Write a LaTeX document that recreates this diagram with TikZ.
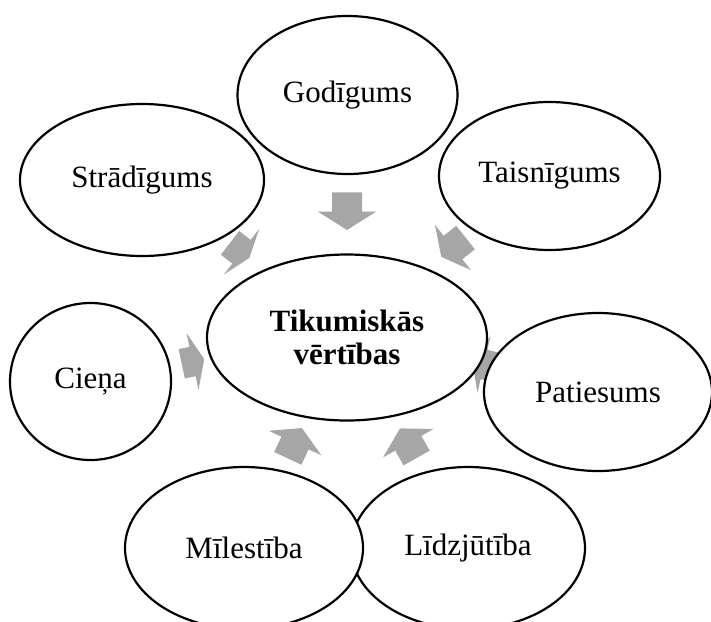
\documentclass[tikz,border=0pt]{standalone}
\usepackage{fontspec}
\setmainfont{Liberation Serif}
\usetikzlibrary{shapes.geometric}
\definecolor{arrowgray}{HTML}{A6A6A6}
\tikzset{
  virtue/.style={ellipse, draw=black, line width=2.2pt, fill=white, inner sep=0pt,
    font=\fontsize{31}{33}\selectfont, align=center},
  blockarrow/.style={fill=arrowgray, draw=none},
}
% #1,#2 = midpoint of head base, #3 = direction angle, #4 = shaft length, #5 = head length
\newcommand{\radialarrow}[5]{%
  \begin{scope}[shift={(#1,#2)}, rotate=#3]
    \fill[blockarrow] (-#4,-15) -- (0,-15) -- (0,-29) -- (#5,0) -- (0,29) -- (0,15) -- (-#4,15) -- cycle;
  \end{scope}}
\begin{document}
\begin{tikzpicture}[x=1pt, y=-1pt]
  \useasboundingbox (0,0) rectangle (711,621);
  \clip (0,0) rectangle (711,621);
  % arrows (behind the ellipses)
  \radialarrow{347}{211.7}{270}{19.4}{18.3}
  \radialarrow{241.5}{251.7}{-37.7}{14.5}{10}
  \radialarrow{453}{247.5}{218.5}{16}{15}
  \radialarrow{192.5}{361.5}{12}{11}{12}
  \radialarrow{484}{364.5}{167}{14}{12}
  \radialarrow{295}{443}{65}{17}{16.5}
  \radialarrow{408.3}{443.2}{119.4}{17}{17}
  % ellipses
  \node[virtue, minimum width=220, minimum height=158] (god) at (347.5,95) {God\={\i}gums};
  \node[virtue, minimum width=244, minimum height=152] (strad) at (142,180) {Str\=ad\={\i}gums};
  \node[virtue, minimum width=221, minimum height=148] (taisn) at (549.5,176) {Taisn\={\i}gums};
  \node[virtue, minimum width=280, minimum height=166, font=\fontsize{31}{33}\selectfont\bfseries] (center) at (347,337.5) {Tikumisk\=as\\v\=ert\={\i}bas};
  \node[virtue, minimum width=161, minimum height=157] (ciena) at (90.5,381.5) {Cie\c{n}a};
  \node[virtue, minimum width=228, minimum height=158] (paties) at (598,392) {Patiesums};
  \node[virtue, minimum width=234, minimum height=162] (lidz) at (468,548) {L\={\i}dzj\=ut\={\i}ba};
  \node[virtue, minimum width=238, minimum height=162] (miles) at (244,548) {M\={\i}lest\={\i}ba};
\end{tikzpicture}
\end{document}
